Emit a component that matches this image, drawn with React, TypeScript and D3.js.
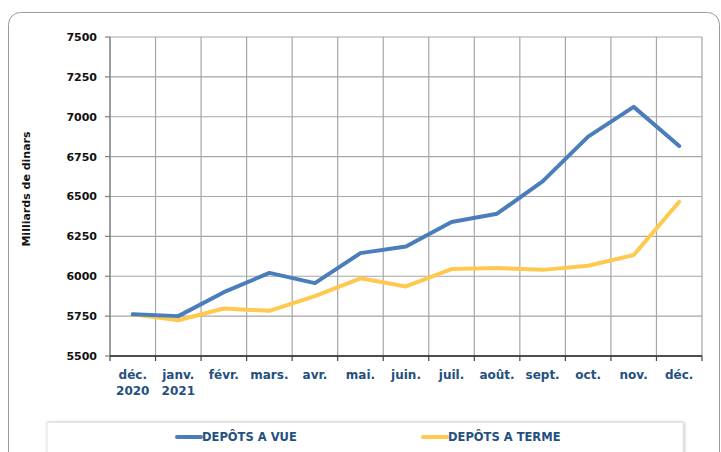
import React from "react";
import * as d3 from "d3";

const months = ["déc.|2020", "janv.|2021", "févr.", "mars.", "avr.", "mai.", "juin.", "juil.", "août.", "sept.", "oct.", "nov.", "déc."];
const depotsVue = [5761, 5750, 5900, 6021, 5957, 6145, 6187, 6340, 6392, 6595, 6875, 7062, 6817];
const depotsTerme = [5761, 5724, 5798, 5783, 5876, 5987, 5936, 6045, 6052, 6040, 6066, 6133, 6467];
const yTicks = [5500, 5750, 6000, 6250, 6500, 6750, 7000, 7250, 7500];
const seriesNames = ["DEPÔTS A VUE", "DEPÔTS A TERME"];

const W = 721, H = 452;
const left = 110, right = 702, top = 37, bottom = 356;
const BLUE = "#4A7EBB", YELLOW = "#FFC94F", LABEL = "#24507F";
const FONT = "'DejaVu Sans', Verdana, sans-serif";

export default function App() {
  const x = d3.scaleBand<number>().domain(d3.range(months.length)).range([left, right]);
  const y = d3.scaleLinear().domain([5500, 7500]).range([bottom, top]);
  const line = d3.line<number>().x((_, i) => (x(i) as number) + x.bandwidth() / 2).y((d) => y(d));
  const bounds = d3.range(months.length + 1).map((i) => left + i * x.step());

  return (
    <svg width={W} height={H} style={{ position: "absolute", left: 0, top: 0 }} fontFamily={FONT}>
      <defs>
        <filter id="sh" x="-5%" y="-50%" width="110%" height="200%">
          <feDropShadow dx="1" dy="0" stdDeviation="1.5" floodColor="#000" floodOpacity="0.25" />
        </filter>
      </defs>
      <rect x={0} y={0} width={W} height={H} fill="#fff" />
      <rect x={8.5} y={12.5} width={711} height={470} rx={12} fill="#fff" stroke="#9a9a9a" strokeWidth={1} />
      {/* grid */}
      {yTicks.map((t) => (
        <line key={"h" + t} x1={left} x2={right} y1={y(t)} y2={y(t)} stroke="#a6a6a6" strokeWidth={1.2} />
      ))}
      {bounds.map((b, i) => (
        <line key={"v" + i} x1={b} x2={b} y1={top} y2={bottom} stroke="#a6a6a6" strokeWidth={1.2} />
      ))}
      {/* axes */}
      <line x1={left} x2={left} y1={top} y2={bottom} stroke="#7f7f7f" strokeWidth={1.2} />
      <line x1={left} x2={right} y1={bottom} y2={bottom} stroke="#222" strokeWidth={1.5} />
      {yTicks.map((t) => (
        <g key={"yt" + t}>
          <line x1={left - 5} x2={left} y1={y(t)} y2={y(t)} stroke="#7f7f7f" strokeWidth={1.2} />
          <text x={97} y={y(t)} dy="0.36em" textAnchor="end" fontSize={11} fontWeight="bold" fill="#111">
            {t}
          </text>
        </g>
      ))}
      {bounds.map((b, i) => (
        <line key={"xt" + i} x1={b} x2={b} y1={bottom} y2={bottom + 5} stroke="#444" strokeWidth={1.2} />
      ))}
      {months.map((m, i) => {
        const parts = m.split("|");
        const cx = (x(i) as number) + x.bandwidth() / 2;
        return (
          <text key={"xl" + i} x={cx} y={379} textAnchor="middle" fontSize={12} fontWeight="bold" fill={LABEL}>
            <tspan x={cx}>{parts[0]}</tspan>
            {parts[1] && (
              <tspan x={cx} dy={16}>
                {parts[1]}
              </tspan>
            )}
          </text>
        );
      })}
      <text transform={`translate(30,189) rotate(-90)`} textAnchor="middle" fontSize={11} fontWeight="bold" fill="#111">
        Milliards de dinars
      </text>
      {/* lines */}
      <path d={line(depotsTerme) || ""} fill="none" stroke={YELLOW} strokeWidth={4} strokeLinejoin="round" strokeLinecap="round" />
      <path d={line(depotsVue) || ""} fill="none" stroke={BLUE} strokeWidth={4} strokeLinejoin="round" strokeLinecap="round" />
      {/* legend */}
      <rect x={47} y={422.5} width={636} height={60} fill="#fff" stroke="#e4e4e4" strokeWidth={1} filter="url(#sh)" />
      {[BLUE, YELLOW].map((c, i) => {
        const lx = i === 0 ? 177 : 423;
        return (
          <g key={"lg" + i}>
            <line x1={lx} x2={lx + 24} y1={437} y2={437} stroke={c} strokeWidth={4} strokeLinecap="round" />
            <text x={lx + 25} y={437} dy="0.36em" fontSize={11.5} fontWeight="bold" fill={LABEL}>
              {seriesNames[i]}
            </text>
          </g>
        );
      })}
    </svg>
  );
}
